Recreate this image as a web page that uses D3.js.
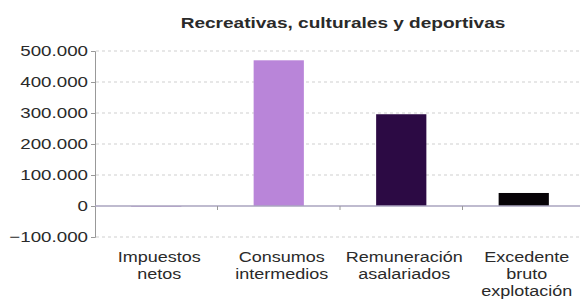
<!DOCTYPE html>
<html>
<head>
<meta charset="utf-8">
<script src="https://cdnjs.cloudflare.com/ajax/libs/d3/7.8.5/d3.min.js"></script>
<style>
  body { margin: 0; background: #fff; }
  text { font-family: "Liberation Sans", Arial, sans-serif; fill: #2a2a2a; }
</style>
</head>
<body>
<div id="chart"></div>
<script>
// values
var categories = [["Impuestos", "netos"], ["Consumos", "intermedios"], ["Remuneración", "asalariados"], ["Excedente", "bruto", "explotación"]];
var values = [-1500, 470000, 296000, 42000];
var barColors = ["#c9a6e0", "#b985d9", "#2c0a44", "#070307"];
var yTicks = [-100000, 0, 100000, 200000, 300000, 400000, 500000];
var title = "Recreativas, culturales y deportivas";

var width = 580, height = 299;
var plotLeft = 95, plotRight = 585, plotTop = 51, plotBottom = 237;

var svg = d3.select("#chart").append("svg")
    .attr("width", width)
    .attr("height", height);

var x = d3.scaleBand()
    .domain(d3.range(categories.length))
    .range([plotLeft, plotRight])
    .paddingInner(0.59)
    .paddingOuter(0.295);

var y = d3.scaleLinear()
    .domain([-100000, 500000])
    .range([plotBottom, plotTop]);

var fmt = function(d) {
    return d3.format(",")(d).replace(/,/g, ".");
};

// text in the picture is stretched sideways
function stext(g, px, py, str, anchor, sx) {
    return g.append("text")
        .attr("transform", "translate(" + px + "," + py + ") scale(" + sx + ",1)")
        .attr("text-anchor", anchor)
        .text(str);
}

// dashed grid lines
svg.append("g").selectAll("line")
    .data(yTicks.filter(function(d) { return d != 0; }))
    .enter().append("line")
    .attr("x1", plotLeft + 1).attr("x2", width)
    .attr("y1", function(d) { return y(d); })
    .attr("y2", function(d) { return y(d); })
    .style("stroke", "#cfcfcf")
    .style("stroke-dasharray", "3,3");

// bars
svg.append("g").selectAll("rect")
    .data(values)
    .enter().append("rect")
    .attr("x", function(d, i) { return x(i); })
    .attr("width", x.bandwidth())
    .attr("y", function(d) { return y(Math.max(0, d)); })
    .attr("height", function(d) { return Math.max(1, Math.abs(y(d) - y(0))); })
    .style("fill", function(d, i) { return barColors[i]; });

// y axis
var yAxis = svg.append("g")
    .attr("transform", "translate(" + plotLeft + ",0)")
    .call(d3.axisLeft(y).tickValues(yTicks).tickSize(4).tickFormat(""));
yAxis.select(".domain").style("stroke", "#999");
yAxis.selectAll(".tick line").style("stroke", "#999");

var ylab = svg.append("g").attr("font-size", "15px");
yTicks.forEach(function(d) {
    stext(ylab, plotLeft - 7, y(d) + 5, fmt(d), "end", 1.25);
});

// zero line with category ticks
svg.append("line")
    .attr("x1", plotLeft).attr("x2", width)
    .attr("y1", y(0)).attr("y2", y(0))
    .style("stroke", "#aaa4bf")
    .style("stroke-width", 1.5);

svg.append("g").selectAll("line")
    .data(d3.range(1, categories.length))
    .enter().append("line")
    .attr("x1", function(i) { return x(i) - x.step() * x.paddingInner() / 2; })
    .attr("x2", function(i) { return x(i) - x.step() * x.paddingInner() / 2; })
    .attr("y1", y(0)).attr("y2", y(0) + 4)
    .style("stroke", "#999");

// category labels
var xlab = svg.append("g").attr("font-size", "15px");
categories.forEach(function(lines, i) {
    lines.forEach(function(s, j) {
        stext(xlab, x(i) + x.bandwidth() / 2 + 3, 262 + j * 17, s, "middle", 1.2);
    });
});

// title
stext(svg, 343, 28, title, "middle", 1.27)
    .attr("font-size", "15px")
    .attr("font-weight", "bold");
</script>
</body>
</html>
